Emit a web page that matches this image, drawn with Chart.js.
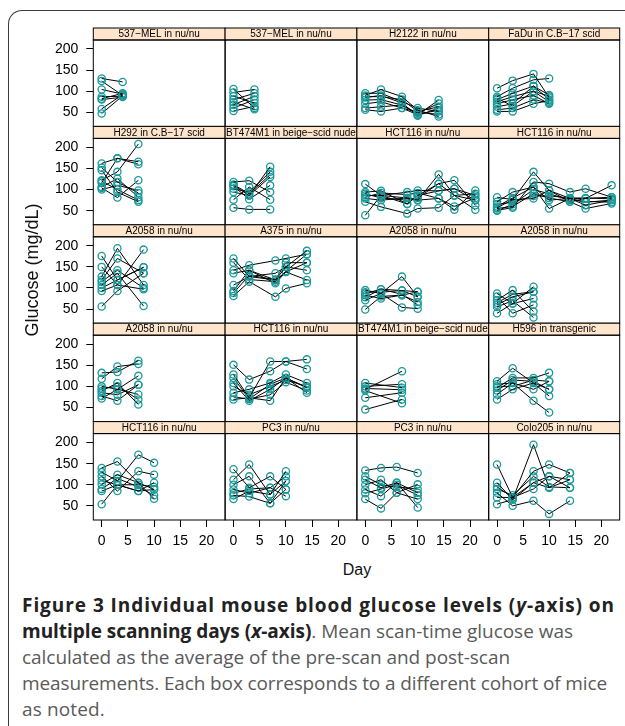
<!DOCTYPE html>
<html>
<head>
<meta charset="utf-8">
<title>Blood glucose by cohort</title>
<script src="https://cdn.jsdelivr.net/npm/chart.js@4.4.1/dist/chart.umd.min.js"></script>
<style>
  html, body { margin: 0; padding: 0; background: #fff; }
  body { width: 625px; height: 726px; position: relative; overflow: hidden; font-family: "Liberation Sans", Arial, sans-serif; }
  #frame { position: absolute; left: 8px; top: 10px; width: 720px; height: 800px;
           border-left: 1.5px solid #3c3c3c; border-top: 1.5px solid #3c3c3c; border-top-left-radius: 14px; }
  canvas.panel { position: absolute; left: 0; top: 0; }
  #ylab { position: absolute; left: -68px; top: 259px; width: 200px; height: 22px; line-height: 22px;
          text-align: center; font-size: 18px; color: #111; transform: rotate(-90deg); }
  #xlab { position: absolute; left: 307px; top: 560px; width: 100px; height: 20px; line-height: 20px;
          text-align: center; font-size: 16px; color: #111; }
  .cap { position: absolute; left: 22px; white-space: nowrap; font-family: "Open Sans", Lato, sans-serif;
         font-size: 19px; line-height: 26px; color: #5a5a5a; }
  .cap b { color: #222; font-weight: 700; }
</style>
</head>
<body>
<div id="frame"></div>
<div id="panels"></div>
<div id="ylab">Glucose (mg/dL)</div>
<div id="xlab">Day</div>
<div class="cap" style="top:592px"><b>Figure 3 Individual mouse blood glucose levels (<i>y</i>-axis) on</b></div>
<div class="cap" style="top:618px"><b>multiple scanning days (<i>x</i>-axis)</b>. Mean scan-time glucose was</div>
<div class="cap" style="top:644px">calculated as the average of the pre-scan and post-scan</div>
<div class="cap" style="top:670px">measurements. Each box corresponds to a different cohort of mice</div>
<div class="cap" style="top:696px">as noted.</div>

<script>
// ---- cohort titles, left to right, top to bottom ----
const panelTitles = [
  '537\u2212MEL in nu/nu', '537\u2212MEL in nu/nu', 'H2122 in nu/nu', 'FaDu in C.B\u221217 scid',
  'H292 in C.B\u221217 scid', 'BT474M1 in beige\u2212scid nude', 'HCT116 in nu/nu', 'HCT116 in nu/nu',
  'A2058 in nu/nu', 'A375 in nu/nu', 'A2058 in nu/nu', 'A2058 in nu/nu',
  'A2058 in nu/nu', 'HCT116 in nu/nu', 'BT474M1 in beige\u2212scid nude', 'H596 in transgenic',
  'HCT116 in nu/nu', 'PC3 in nu/nu', 'PC3 in nu/nu', 'Colo205 in nu/nu'
];

// ---- scan days and glucose (mg/dL) per mouse, one row per animal ----
const p01Days = [0, 4];
const p01Mice = [[130, 122], [124, 90], [104, 93], [87, 88], [82, 95], [80, 86], [58, 92], [47, 89]];

const p02Days = [0, 4];
const p02Mice = [[105, 60], [97, 104], [88, 72], [80, 95], [74, 57], [68, 88], [60, 80], [53, 64]];

const p03Days = [0, 3, 7, 10, 14];
const p03Mice = [
  [90, 104, 87, 55, 40], [95, 95, 75, 60, 52], [87, 87, 80, 52, 63], [79, 80, 67, 48, 71],
  [70, 75, 60, 44, 79], [60, 63, 67, 45, 55], [56, 52, 60, 50, 45], [85, 90, 72, 42, 60]
];

const p04Days = [0, 3, 7, 10];
const p04Mice = [
  [107, 125, 141, 85], [87, 107, 127, 130], [80, 95, 112, 80], [75, 87, 100, 75], [70, 80, 90, 70],
  [63, 70, 112, 91], [56, 60, 80, 72], [52, 52, 70, 78], [83, 65, 100, 88]
];

const p05Days = [0, 3, 7];
const p05Mice = [
  [162, 174, 166], [152, 118, 92], [146, 94, 71], [122, 142, 208], [116, 174, 160],
  [106, 126, 82], [100, 110, 98], [104, 81, 122], [120, 100, 75]
];

const p06Days = [0, 3, 7];
const p06Mice = [
  [118, 121, 94], [110, 86, 154], [102, 94, 142], [94, 86, 130], [108, 77, 110],
  [76, 106, 76], [57, 53, 53], [112, 90, 135]
];

const p07Days = [0, 3, 8, 10, 14, 17, 21];
const p07Mice = [
  [113, 86, 80, 75, 136, 86, 75], [94, 97, 66, 86, 114, 122, 63], [86, 86, 94, 98, 97, 102, 86],
  [79, 75, 80, 75, 79, 52, 98], [71, 59, 43, 55, 57, 86, 52], [39, 86, 66, 86, 97, 102, 75],
  [90, 80, 75, 80, 114, 86, 90], [82, 92, 88, 92, 79, 60, 80]
];

const p08Days = [0, 3, 7, 10, 14, 17, 22];
const p08Mice = [
  [57, 76, 142, 98, 79, 79, 110], [51, 57, 118, 114, 94, 102, 82], [71, 94, 106, 75, 79, 63, 75],
  [82, 76, 79, 98, 71, 79, 82], [55, 60, 90, 80, 71, 55, 67], [60, 80, 106, 55, 79, 70, 75],
  [65, 70, 85, 85, 80, 80, 78], [50, 65, 100, 90, 75, 72, 70]
];

const p09Days = [0, 3, 8];
const p09Mice = [
  [176, 119, 149], [150, 107, 97], [127, 194, 107], [119, 170, 135], [107, 135, 57],
  [93, 107, 191], [56, 93, 135], [115, 142, 100], [100, 119, 149]
];

const p10Days = [0, 3, 8, 10, 14];
const p10Mice = [
  [170, 127, 119, 150, 188], [142, 154, 165, 170, 180], [135, 142, 119, 138, 160], [107, 127, 135, 150, 142],
  [93, 142, 111, 138, 119], [81, 115, 79, 99, 111], [160, 120, 115, 140, 180], [88, 130, 120, 160, 160]
];

const p11Days = [0, 3, 7, 10];
const p11Mice = [
  [95, 87, 127, 79], [87, 97, 94, 91], [83, 75, 83, 67], [71, 87, 54, 51],
  [49, 80, 83, 91], [90, 90, 94, 79], [78, 97, 85, 60]
];

const p12Days = [0, 3, 7];
const p12Mice = [[87, 63, 103], [71, 95, 44], [60, 79, 91], [40, 63, 75], [80, 40, 60], [55, 70, 30], [65, 85, 91]];

const p13Days = [0, 3, 7];
const p13Mice = [
  [132, 134, 161], [118, 147, 153], [100, 93, 125], [89, 108, 57],
  [77, 66, 104], [71, 93, 81], [95, 100, 69], [85, 80, 104]
];

const p14Days = [0, 3, 7, 10, 14];
const p14Mice = [
  [151, 116, 136, 159, 141], [128, 73, 159, 159, 164], [108, 66, 93, 120, 97], [85, 93, 108, 128, 108],
  [69, 73, 66, 120, 85], [100, 80, 100, 115, 100], [120, 70, 80, 110, 90], [75, 70, 105, 120, 97]
];

const p15Days = [0, 7];
const p15Mice = [[108, 97], [93, 136], [73, 85], [45, 69], [100, 105], [90, 60], [95, 92]];

const p16Days = [0, 3, 7, 10];
const p16Mice = [
  [112, 143, 108, 93], [97, 120, 120, 132], [81, 108, 93, 112], [69, 93, 108, 77],
  [105, 108, 66, 38], [90, 115, 112, 93], [100, 100, 115, 112]
];

const p17Days = [0, 3, 7, 10];
const p17Mice = [
  [140, 155, 105, 89], [130, 109, 171, 152], [120, 85, 132, 124], [101, 124, 105, 67],
  [85, 100, 85, 105], [54, 100, 85, 89], [110, 100, 100, 95], [90, 115, 95, 75]
];

const p18Days = [0, 3, 7, 10];
const p18Mice = [
  [137, 93, 120, 89], [112, 148, 77, 132], [100, 120, 56, 109], [89, 80, 93, 73],
  [75, 72, 56, 89], [66, 85, 77, 109], [80, 90, 93, 120]
];

const p19Days = [0, 3, 6, 10];
const p19Mice = [
  [134, 140, 142, 128], [112, 93, 105, 81], [100, 112, 81, 66], [89, 73, 105, 46],
  [66, 44, 81, 101], [120, 100, 95, 90], [80, 90, 100, 75]
];

const p20Days = [0, 3, 7, 10, 14];
const p20Mice = [
  [148, 70, 105, 120, 93], [105, 65, 195, 93, 112], [95, 70, 132, 148, 128], [81, 50, 62, 31, 62],
  [54, 65, 105, 93, 128], [90, 75, 120, 95, 93], [70, 70, 90, 120, 112]
];

const panelDays = [p01Days, p02Days, p03Days, p04Days, p05Days, p06Days, p07Days, p08Days, p09Days, p10Days,
                   p11Days, p12Days, p13Days, p14Days, p15Days, p16Days, p17Days, p18Days, p19Days, p20Days];
const panelMice = [p01Mice, p02Mice, p03Mice, p04Mice, p05Mice, p06Mice, p07Mice, p08Mice, p09Mice, p10Mice,
                   p11Mice, p12Mice, p13Mice, p14Mice, p15Mice, p16Mice, p17Mice, p18Mice, p19Mice, p20Mice];

const yTickValues = [50, 100, 150, 200];
const xTickValues = [0, 5, 10, 15, 20];

// ---- layout of the 4 x 5 grid (px) ----
const W = 625, H = 560;
const colLeft = [93.3, 225.1, 356.9, 488.7];
const panelW = 131.8;
const stripTop = [28, 126.4, 224.8, 323.2, 421.6];
const stripH = 12, bodyH = 86.4;
const yAxisW = 60, xAxisH = 40;
const teal = '#1a9a9a';

Chart.defaults.font.family = '"Liberation Sans", Arial, sans-serif';

// strip with the cohort name above each panel, plus the panel box
const stripPlugin = {
  id: 'strip',
  afterDraw(chart, args, opts) {
    const a = chart.chartArea, ctx = chart.ctx;
    const w = a.right - a.left;
    ctx.save();
    ctx.fillStyle = '#ffe5cc';
    ctx.fillRect(a.left, a.top - stripH, w, stripH);
    ctx.strokeStyle = '#000';
    ctx.lineWidth = 1;
    ctx.strokeRect(a.left, a.top - stripH, w, stripH);
    ctx.strokeRect(a.left, a.top, w, a.bottom - a.top);
    ctx.fillStyle = '#000';
    ctx.font = '10px "Liberation Sans", Arial, sans-serif';
    ctx.textAlign = 'center';
    ctx.textBaseline = 'middle';
    ctx.fillText(opts.title, a.left + w / 2, a.top - stripH / 2 + 0.5);
    ctx.restore();
  }
};

function makePanel(i) {
  const col = i % 4, row = Math.floor(i / 4);
  const left = colLeft[col], right = left + panelW;
  const top = stripTop[row] + stripH, bottom = top + bodyH;
  const showY = col === 0, showX = row === 4;

  const canvas = document.createElement('canvas');
  canvas.className = 'panel';
  canvas.width = W;
  canvas.height = H;
  document.getElementById('panels').appendChild(canvas);

  const days = panelDays[i];
  const datasets = panelMice[i].map(vals => ({
    data: vals.map((v, k) => ({ x: days[k], y: v })),
    showLine: true,
    borderColor: '#000',
    borderWidth: 1,
    pointRadius: 3.6,
    pointBorderWidth: 1.3,
    pointBorderColor: teal,
    pointBackgroundColor: 'rgba(0,0,0,0)'
  }));

  const tickGrid = { drawOnChartArea: false, drawTicks: true, tickLength: 7, color: '#000', lineWidth: 1 };

  new Chart(canvas, {
    type: 'scatter',
    data: { datasets },
    options: {
      responsive: false,
      animation: false,
      devicePixelRatio: 1,
      events: [],
      layout: {
        padding: {
          left: showY ? left - yAxisW : left,
          right: W - right,
          top: top,
          bottom: showX ? H - bottom - xAxisH : H - bottom
        }
      },
      plugins: {
        legend: { display: false },
        tooltip: { enabled: false },
        strip: { title: panelTitles[i] }
      },
      scales: {
        x: {
          type: 'linear',
          min: -1.6,
          max: 23.55,
          display: showX,
          afterBuildTicks: s => { s.ticks = xTickValues.map(v => ({ value: v })); },
          afterFit: s => { if (showX) s.height = xAxisH; },
          grid: tickGrid,
          border: { display: false },
          ticks: { color: '#000', font: { size: 14 }, padding: 6, maxRotation: 0, autoSkip: false }
        },
        y: {
          type: 'linear',
          min: 16.5,
          max: 221.3,
          display: showY,
          afterBuildTicks: s => { s.ticks = yTickValues.map(v => ({ value: v })); },
          afterFit: s => { if (showY) s.width = yAxisW; },
          grid: tickGrid,
          border: { display: false },
          ticks: { color: '#000', font: { size: 14 }, padding: 8, autoSkip: false }
        }
      }
    },
    plugins: [stripPlugin]
  });
}

for (let i = 0; i < panelTitles.length; i++) makePanel(i);

// caption lines are set to the measure of the printed figure legend
const captionWidths = [593, 551, 488, 585, 83];
document.fonts.ready.then(() => {
  document.querySelectorAll('.cap').forEach((el, k) => {
    const natural = el.getBoundingClientRect().width;
    const n = el.textContent.length;
    el.style.letterSpacing = ((captionWidths[k] - natural) / n).toFixed(3) + 'px';
  });
});
</script>
</body>
</html>
